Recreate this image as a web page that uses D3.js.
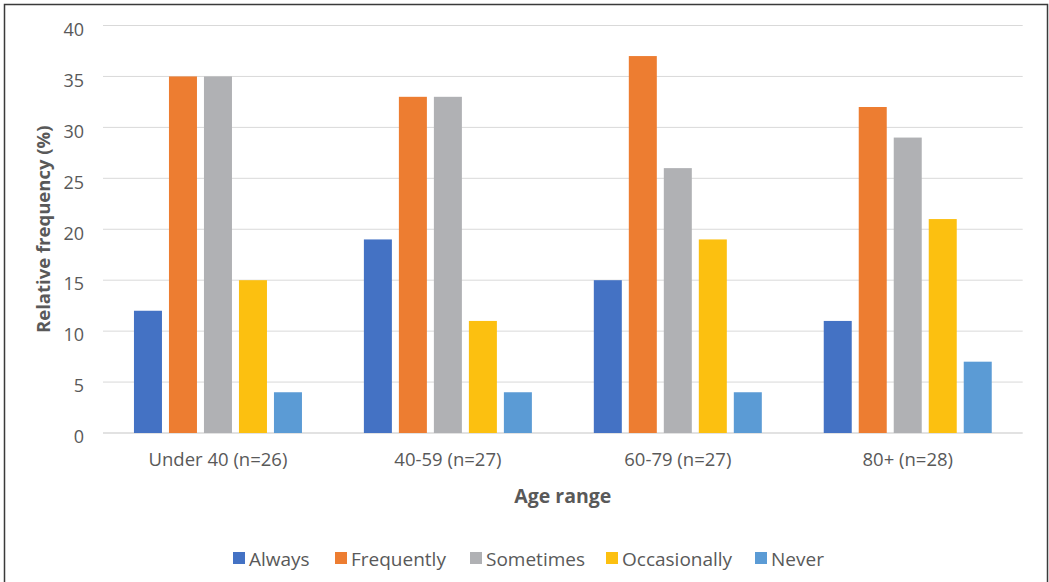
<!DOCTYPE html>
<html><head><meta charset="utf-8">
<script src="https://cdn.jsdelivr.net/npm/d3@7"></script>
<style>body{margin:0;background:#fff}svg{display:block}text{font-family:"Open Sans",sans-serif}</style>
</head><body>
<svg id="c" width="1049" height="582"></svg>
<script>
const categories = ["Under 40 (n=26)", "40-59 (n=27)", "60-79 (n=27)", "80+ (n=28)"];
const seriesNames = ["Always", "Frequently", "Sometimes", "Occasionally", "Never"];
const always       = [12, 19, 15, 11];
const frequently   = [35, 33, 37, 32];
const sometimes    = [35, 33, 26, 29];
const occasionally = [15, 11, 19, 21];
const never        = [4, 4, 4, 7];
const yTicks = [0, 5, 10, 15, 20, 25, 30, 35, 40];
const colors = ["#4472c4", "#ed7d31", "#b0b1b4", "#fcc010", "#5b9bd5"];

const seriesValues = [always, frequently, sometimes, occasionally, never];
const svg = d3.select("#c");
const L = 103, R = 1022.7, T = 25.5, B = 433;
const textColor = "#595959";

svg.append("rect").attr("x", 4.5).attr("y", 4.5).attr("width", 1043).attr("height", 600)
  .attr("fill", "none").attr("stroke", "#3a3a3a").attr("stroke-width", 1.5);

const x0 = d3.scaleBand().domain(categories).range([L, R]).paddingInner(0).paddingOuter(0);
const groupW = 175;
const x1 = d3.scaleBand().domain(seriesNames).range([0, groupW]).paddingInner(0.2).paddingOuter(0.1);
const y = d3.scaleLinear().domain([0, 40]).range([B, T]);

// gridlines
svg.append("g").selectAll("line").data(yTicks).join("line")
  .attr("x1", L).attr("x2", R).attr("y1", d => y(d)).attr("y2", d => y(d))
  .attr("stroke", "#d9d9d9").attr("stroke-width", d => d === 0 ? 1.5 : 1);

// y tick labels
const yAxis = d3.axisLeft(y).tickValues(yTicks).tickSize(0).tickPadding(0);
const ya = svg.append("g").attr("transform", `translate(84,4)`).call(yAxis);
ya.select(".domain").remove();
ya.selectAll("text").attr("fill", textColor).style("font-size", "18px").style("font-family", "Open Sans");

// bars
const rows = categories.map((c, i) => ({ cat: c, vals: seriesNames.map((s, j) => ({ s, v: seriesValues[j][i], j })) }));
const g = svg.append("g").selectAll("g").data(rows).join("g")
  .attr("transform", d => `translate(${x0(d.cat) + (x0.bandwidth() - groupW) / 2},0)`);
g.selectAll("rect").data(d => d.vals).join("rect")
  .attr("x", d => x1(d.s)).attr("width", x1.bandwidth())
  .attr("y", d => y(d.v)).attr("height", d => y(0) - y(d.v))
  .attr("fill", d => colors[d.j]);

// x axis labels
const xAxis = d3.axisBottom(x0).tickSize(0).tickPadding(0);
const xa = svg.append("g").attr("transform", `translate(0,${B})`).call(xAxis);
xa.select(".domain").remove();
xa.selectAll("text").attr("fill", textColor).attr("dy", null).attr("y", 33)
  .style("font-size", "18.5px").style("font-family", "Open Sans");

// axis titles
svg.append("text").attr("x", (L + R) / 2).attr("y", 503).attr("text-anchor", "middle")
  .attr("fill", textColor).style("font-size", "19.5px").style("font-weight", "bold").text("Age range");
svg.append("text").attr("transform", `translate(50,${(T + B) / 2}) rotate(-90)`).attr("text-anchor", "middle")
  .attr("fill", textColor).style("font-size", "18.5px").style("font-weight", "bold").text("Relative frequency (%)");

// legend
const legendX = [233, 335, 470, 606, 755];
const lg = svg.append("g").selectAll("g").data(seriesNames).join("g")
  .attr("transform", (d, i) => `translate(${legendX[i]},552)`);
lg.append("rect").attr("x", 0).attr("y", 0).attr("width", 12).attr("height", 12).attr("fill", (d, i) => colors[i]);
lg.append("text").attr("x", 16).attr("y", 14).attr("fill", textColor).style("font-size", "19px").text(d => d);
</script>
</body></html>
